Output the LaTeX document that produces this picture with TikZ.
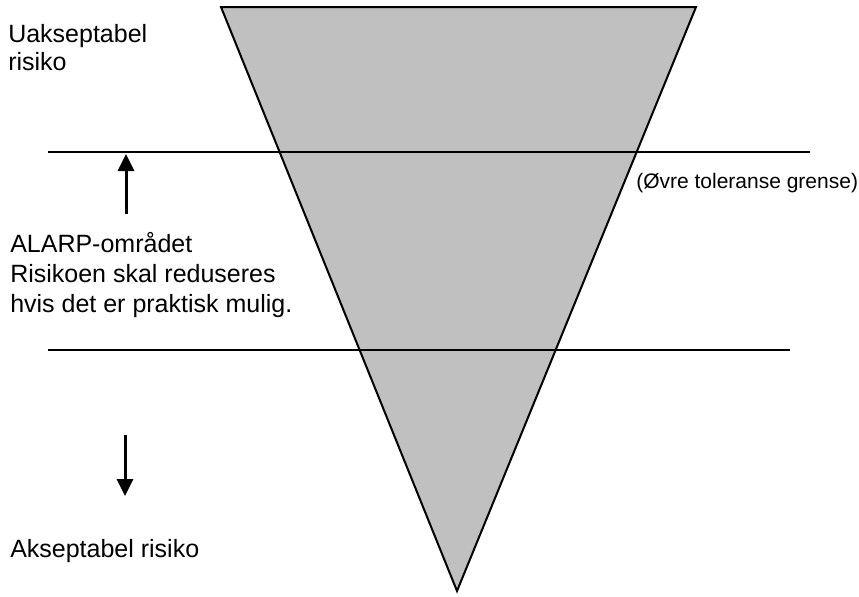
\documentclass[tikz,border=0pt]{standalone}
\usepackage{fontspec}
\setmainfont{Liberation Sans}
\usepackage{xcolor}
\usetikzlibrary{arrows.meta}
\definecolor{riskgray}{RGB}{192,192,192}
\tikzstyle{risktext}=[anchor=base west, inner sep=0pt, align=left, font=\fontsize{18.75}{22.5}\selectfont]
\tikzstyle{smalltext}=[anchor=base west, inner sep=0pt, font=\fontsize{15.75}{19}\selectfont]
\tikzstyle{bound}=[line width=1.5pt]
\tikzstyle{dirarrow}=[line width=2.25pt, -{Triangle[length=12.75pt, width=12pt]}]

\begin{document}
\begin{tikzpicture}[x=0.75pt, y=-0.75pt]
\useasboundingbox (0,0) rectangle (859,596);

% Risk triangle
\draw[bound, fill=riskgray] (221,7) -- (696,7) -- (457,591) -- cycle;

% Tolerance limits
\coordinate (upL) at (48,152);
\coordinate (upR) at (810,152);
\coordinate (loL) at (48,350);
\coordinate (loR) at (790,350);
\draw[bound] (upL) -- (upR);
\draw[bound] (loL) -- (loR);

% Arrows
\coordinate (upfoot) at (126,214);
\coordinate (uptip) at (126,154);
\coordinate (downfoot) at (125,435);
\coordinate (downtip) at (125,496);
\draw[dirarrow] (upfoot) -- (uptip);
\draw[dirarrow] (downfoot) -- (downtip);

% Texts (base = last line)
\node[risktext, font=\fontsize{18.75}{21}\selectfont] (unacc) at (8,70) {Uakseptabel\\risiko};
\node[risktext] (alarp) at (10,312) {ALARP-området\\Risikoen skal reduseres\\hvis det er praktisk mulig.};
\node[risktext] (acc) at (10,557) {Akseptabel risiko};
\node[smalltext] (upper) at (636,188) {(Øvre toleranse grense)};

\end{tikzpicture}
\end{document}
